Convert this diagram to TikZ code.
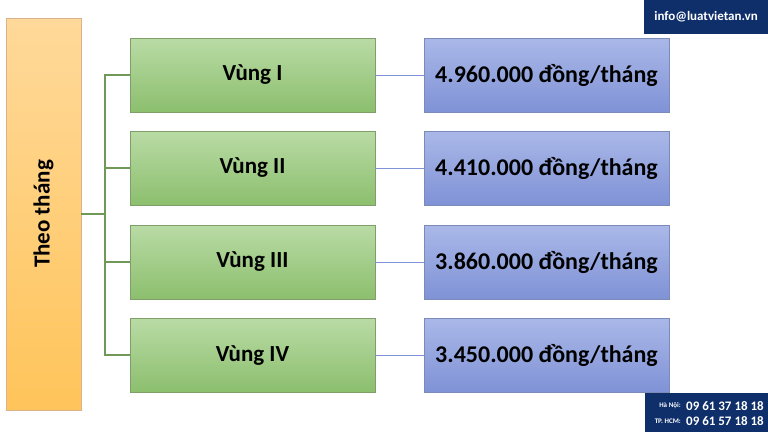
\documentclass[tikz,border=0pt]{standalone}
\usepackage{fontspec}
\setmainfont{Carlito}
\definecolor{gtop}{HTML}{B9DBA5}
\definecolor{gbot}{HTML}{8CBF6E}
\definecolor{gdr}{HTML}{7F9F6A}
\definecolor{btop}{HTML}{AAB8E8}
\definecolor{bbot}{HTML}{7F92D6}
\definecolor{bdr}{HTML}{7C8AB8}
\definecolor{otop}{HTML}{FFD99A}
\definecolor{obot}{HTML}{FFC45A}
\definecolor{navy}{HTML}{0F2F6B}
\begin{document}
\begin{tikzpicture}[x=1pt,y=-1pt,
  gbox/.style={draw=gdr, top color=gtop, bottom color=gbot, minimum width=245pt, minimum height=74pt, font=\bfseries\fontsize{23}{27}\selectfont},
  bbox/.style={draw=bdr, top color=btop, bottom color=bbot, minimum width=245pt, minimum height=74pt, font=\bfseries\fontsize{24}{28}\selectfont},
  gline/.style={draw=gbot!80!black, line width=1.2pt},
  bline/.style={draw=bbot, line width=1pt}]
\useasboundingbox (0,0) rectangle (768,432);
\fill[white] (0,0) rectangle (768,432);
\node[draw=brown!60, top color=otop, bottom color=obot, minimum width=75pt, minimum height=392pt, inner sep=0pt] (o) at (43.5,214) {};
\node[rotate=90, font=\bfseries\fontsize{23}{27}\selectfont] (ot) at (43.5,214) {Theo tháng};
\foreach \i/\y/\a in {1/75/Vùng I, 2/168/Vùng II, 3/262/Vùng III, 4/355/Vùng IV}{
  \node[gbox] (g\i) at (252.5,\y) {\a};
}
\node[bbox] (b1) at (546.5,75) {4.960.000 đồng/tháng};
\node[bbox] (b2) at (546.5,168) {4.410.000 đồng/tháng};
\node[bbox] (b3) at (546.5,262) {3.860.000 đồng/tháng};
\node[bbox] (b4) at (546.5,355) {3.450.000 đồng/tháng};
\foreach \i in {1,...,4}{\draw[bline] (g\i.east) -- (b\i.west);}
\coordinate (j) at (105,214);
\draw[gline] (o.east |- j) -- (j);
\draw[gline] (g1.west) -| (j) |- (g4.west);
\draw[gline] (g2.west) -- (g2.west -| j);
\draw[gline] (g3.west) -- (g3.west -| j);
\node[fill=navy, text=white, minimum width=124pt, minimum height=34pt, font=\bfseries\fontsize{13}{15}\selectfont] (mail) at (706,17) {info@luatvietan.vn};
\node[fill=navy, minimum width=123pt, minimum height=39pt] (ph) at (706.5,412.5) {};
\node[text=white, font=\bfseries\fontsize{7}{8}\selectfont, anchor=east, inner sep=1pt] (l1) at (682,406) {Hà Nội:};
\node[text=white, font=\bfseries\fontsize{7}{8}\selectfont, anchor=east, inner sep=1pt] (l2) at (682,421) {TP. HCM:};
\node[text=white, font=\bfseries\fontsize{13}{14}\selectfont, anchor=east, inner sep=1pt] (n1) at (765,406) {09 61 37 18 18};
\node[text=white, font=\bfseries\fontsize{13}{14}\selectfont, anchor=east, inner sep=1pt] (n2) at (765,421) {09 61 57 18 18};
\end{tikzpicture}
\end{document}
